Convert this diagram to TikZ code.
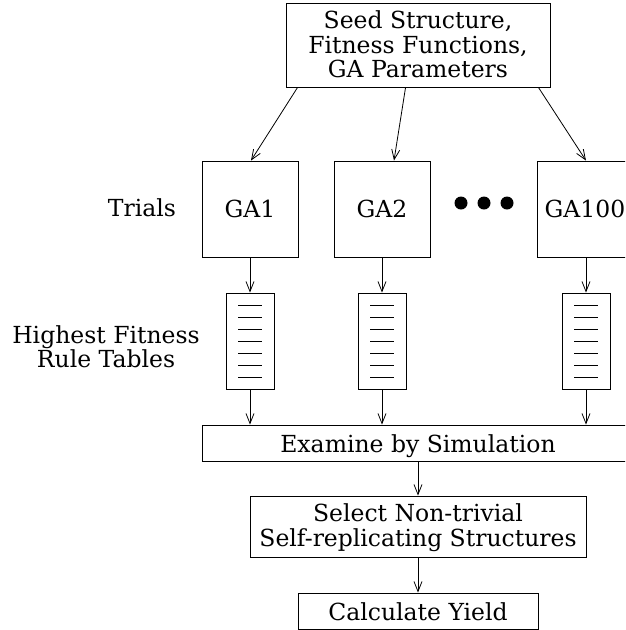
\documentclass[tikz,border=0pt]{standalone}
\usepackage{fontspec}
\setmainfont{DejaVu Serif}
\usetikzlibrary{arrows.meta,calc}
\newcommand{\mylower}[2]{\raisebox{#1}[\height][\depth]{#2}}
\newcommand{\mylines}[2]{\mylower{#1}{\begin{tabular}{@{}c@{}}#2\end{tabular}}}
\begin{document}
\begin{tikzpicture}[x=1pt,y=-1pt,
  lbl/.style={font=\fontsize{23.5}{23}\selectfont, align=center, inner sep=0pt},
  box/.style={draw, line width=0.9pt, inner sep=0pt, align=center, font=\fontsize{23.5}{23.5}\selectfont},
  tbl/.style={draw, line width=0.9pt, minimum width=48pt, minimum height=96pt, inner sep=0pt},
  conn/.style={line width=0.8pt, -{Straight Barb[length=10pt,width=8pt]}},
  rowline/.style={line width=0.9pt}
]
\useasboundingbox (0,0) rectangle (625,630);
\clip (0,0) rectangle (625,630);

% top box
\node[box, minimum width=264pt, minimum height=84pt, font=\fontsize{23.5}{24}\selectfont] (seed) at (418,45)
  {\mylines{-3pt}{Seed Structure,\\Fitness Functions,\\GA Parameters}};

% GA boxes
\node[box, minimum width=96pt, minimum height=96pt] (ga1) at (250,209) {GA1};
\node[box, minimum width=96pt, minimum height=96pt] (ga2) at (382,209) {GA2};
\node[box, minimum width=96pt, minimum height=96pt] (ga3) at (585,209) {GA100};

\node[lbl] (trials) at (142,208) {Trials};

% dots
\fill (461,203) circle (6.5);
\fill (484,203) circle (6.5);
\fill (507,203) circle (6.5);

% tables
\node[tbl] (t1) at (250,341) {};
\node[tbl] (t2) at (382,341) {};
\node[tbl] (t3) at (586,341) {};
\foreach \c in {250,382,586}{
  \foreach \k in {0,...,6}{
    \draw[rowline] (\c-12,305+12*\k) -- (\c+12,305+12*\k);
  }
}
\node[lbl, font=\fontsize{23.5}{22}\selectfont] (hf) at (106,347) {Highest Fitness\\Rule Tables};

% lower boxes
\node[box, minimum width=432pt, minimum height=36pt] (exam) at (418,443) {\mylower{-3pt}{Examine by Simulation}};
\node[box, minimum width=336pt, minimum height=61pt, font=\fontsize{23.5}{23}\selectfont] (sel) at (418,526.5) {\mylines{-2pt}{Select Non-trivial\\Self-replicating Structures}};
\node[box, minimum width=240pt, minimum height=36pt] (calc) at (418,611) {\mylower{-1pt}{Calculate Yield}};

% connectors
\draw[conn] ($(seed.south west)+(12,0)$) -- ($(ga1.north)+(1,0)$);
\draw[conn] ($(seed.south west)+(120,0)$) -- ($(ga2.north)+(12,0)$);
\draw[conn] ($(seed.south east)+(-12,0)$) -- ($(ga3.north)+(1,0)$);

\draw[conn] (ga1.south -| t1.north) -- (t1.north);
\draw[conn] (ga2.south -| t2.north) -- (t2.north);
\draw[conn] (ga3.south -| t3.north) -- (t3.north);

\draw[conn] (t1.south) -- (t1.south |- exam.north);
\draw[conn] (t2.south) -- (t2.south |- exam.north);
\draw[conn] (t3.south) -- (t3.south |- exam.north);

\draw[conn] (exam.south) -- (sel.north);
\draw[conn] (sel.south) -- (calc.north);
\end{tikzpicture}
\end{document}
